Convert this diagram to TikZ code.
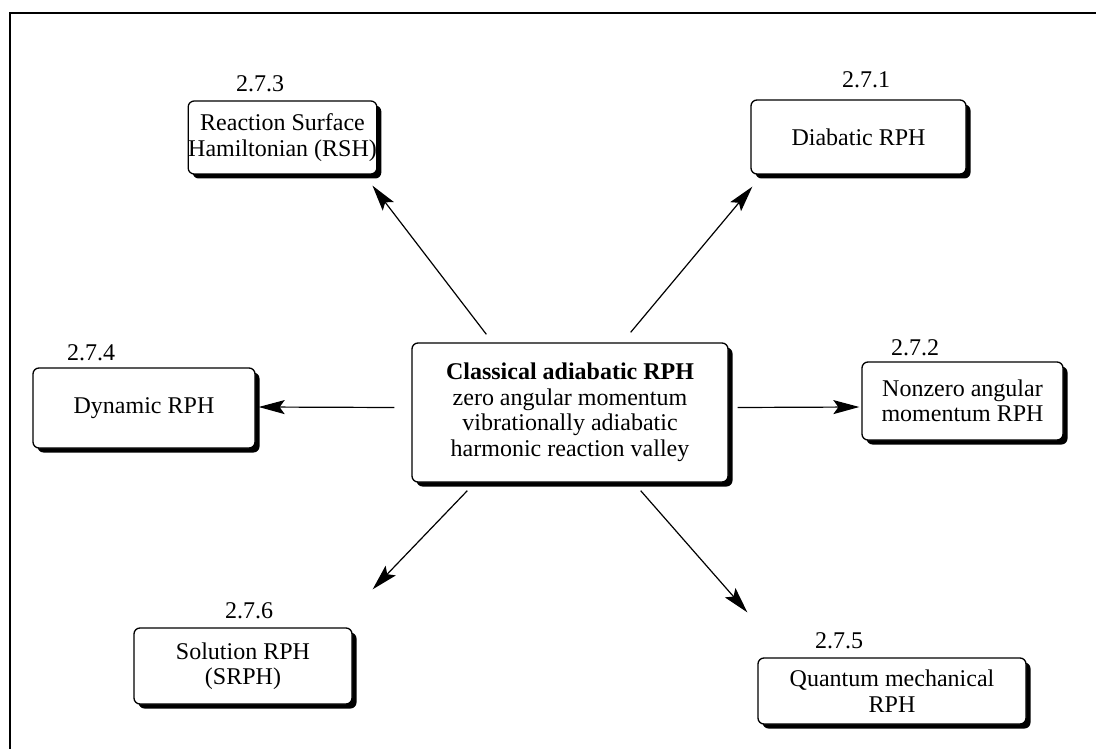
\documentclass[tikz,border=0pt]{standalone}
\usepackage{fontspec}
\setmainfont{Liberation Serif}
\usetikzlibrary{arrows.meta,shadows,calc}
\begin{document}
\begin{tikzpicture}[x=1pt,y=-1pt,
  box/.style={draw=black, line width=1.3pt, rounded corners=6pt, fill=white, align=center,
    font=\fontsize{24}{25.5}\selectfont, inner sep=0pt,
    drop shadow={shadow xshift=4.5pt, shadow yshift=-4.5pt, fill=black, opacity=1}},
  secnum/.style={font=\fontsize{24}{25.5}\selectfont, anchor=base, inner sep=0pt},
  arr/.style={-{Stealth[length=26pt,width=14pt,inset=5pt]}, line width=1.2pt}]
\useasboundingbox (0,0) rectangle (1096,749);
\draw[line width=1.8pt] (10,749) -- (10,13) -- (1096,13);

\node[box, minimum width=316pt, minimum height=139pt] (c) at (570,412.5)
  {\textbf{Classical adiabatic RPH}\\zero angular momentum\\vibrationally adiabatic\\harmonic reaction valley};

\node[box, minimum width=169pt, minimum height=73pt] (rsh) at (282.5,137.5) {Reaction Surface\\Hamiltonian (RSH)};
\node[box, minimum width=215pt, minimum height=74pt] (dia) at (858.5,137) {Diabatic RPH};
\node[box, minimum width=222pt, minimum height=80pt] (dyn) at (144,408) {Dynamic RPH};
\node[box, minimum width=201pt, minimum height=78pt] (nonz) at (962.5,401) {Nonzero angular\\momentum RPH};
\node[box, minimum width=218pt, minimum height=76pt] (sol) at (243,666) {Solution RPH\\(SRPH)};
\node[box, minimum width=268pt, minimum height=66pt] (qm) at (892,691) {Quantum mechanical\\RPH};

\node[secnum] (n273) at (260,92) {2.7.3};
\node[secnum] (n271) at (866,88) {2.7.1};
\node[secnum] (n274) at (91,360) {2.7.4};
\node[secnum] (n272) at (915,355) {2.7.2};
\node[secnum] (n276) at (249,618) {2.7.6};
\node[secnum] (n275) at (839,648) {2.7.5};

\draw[arr] ($(c.north west)+(75,-8)$) -- ($(rsh.south east)+(-5,11)$);
\draw[arr] ($(c.north east)+(-98,-10)$) -- ($(dia.south west)+(2,12)$);
\draw[arr] ($(c.west)+(-17,-5)$) -- ($(dyn.east)+(3,-1)$);
\draw[arr] ($(c.east)+(9,-5)$) -- ($(nonz.west)+(-2,6)$);
\draw[arr] ($(c.south west)+(56,8)$) -- ($(sol.north east)+(20,-38)$);
\draw[arr] ($(c.south east)+(-88,8)$) -- ($(qm.north west)+(-10,-45)$);
\end{tikzpicture}
\end{document}
